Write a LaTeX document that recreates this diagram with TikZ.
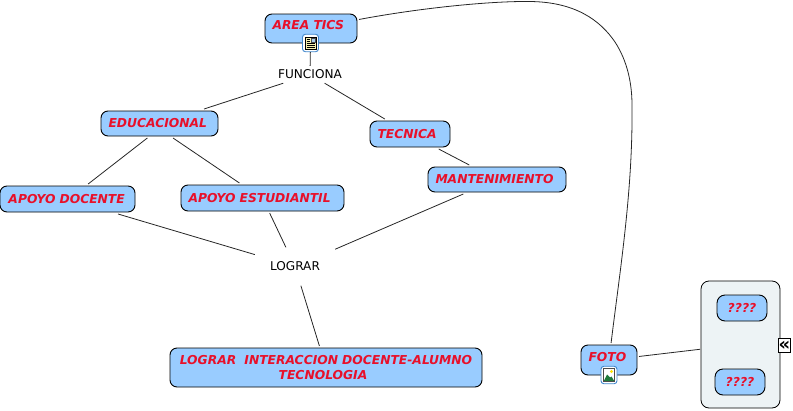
\documentclass[tikz,border=0pt]{standalone}
\usepackage{fontspec}
\setmainfont{DejaVu Sans}
\usepackage{tikz}

\definecolor{conceptblue}{HTML}{99CCFF}
\definecolor{conceptred}{HTML}{E8102A}
\definecolor{panelgray}{HTML}{EDF3F5}
\definecolor{iconblue}{HTML}{3F86CC}
\definecolor{pagecream}{HTML}{F7F2B0}
\definecolor{hillgreen}{HTML}{1F7A3C}
\definecolor{skyblue}{HTML}{A9CDEB}

\tikzset{
    concept/.style={draw=black, line width=0.9pt, fill=conceptblue, rounded corners=7pt, outer sep=2pt,
        text=conceptred, font=\bfseries\itshape\fontsize{12.3}{15}\selectfont, inner xsep=7.5pt,
        align=left, text width=#1},
    linkword/.style={font=\fontsize{12.1}{14}\selectfont, text=black},
    linkicon/.style={draw=iconblue, line width=0.9pt, fill=white, rounded corners=3pt, minimum width=16pt, minimum height=17.5pt, inner sep=0pt},
    connector/.style={line width=0.8pt, draw=black!85},
}

\begin{document}
\begin{tikzpicture}[x=1pt, y=-1pt]
    \useasboundingbox (0,0) rectangle (793,410);

    % Concepts
    \node[concept=77pt, minimum height=29pt, text depth=7pt] (areatics) at (311,28.5) {AREA TICS};
    \node[concept=102pt, minimum height=25pt] (educacional) at (159.5,123.5) {EDUCACIONAL};
    \node[concept=65pt, minimum height=26pt] (tecnica) at (410,134) {TECNICA};
    \node[concept=120pt, minimum height=26pt] (apoyodocente) at (67.5,199) {\hspace*{1pt}APOYO DOCENTE};
    \node[concept=148pt, minimum height=26pt] (apoyoestudiantil) at (262.5,198) {APOYO ESTUDIANTIL};
    \node[concept=123pt, minimum height=25pt] (mantenimiento) at (497,179.5) {MANTENIMIENTO};
    \node[concept=306pt, inner xsep=3pt, minimum height=39pt, align=center] (interaccion) at (326,367.5) {LOGRAR~ INTERACCION DOCENTE-ALUMNO\hspace*{10pt}\\TECNOLOGIA\hspace*{6pt}};
    \node[concept=41pt, minimum height=30pt, text depth=6pt] (foto) at (609,360) {FOTO};

    % Linking words
    \node[linkword, minimum width=66pt, minimum height=17pt, inner sep=0pt] (funciona) at (310,74.5) {FUNCIONA};
    \node[linkword, minimum width=80pt, minimum height=38pt, inner sep=0pt] (lograr) at (295,266.5) {LOGRAR};

    % Folder with its two concepts
    \node[draw=black, line width=0.8pt, fill=panelgray, rounded corners=8pt, minimum width=79pt, minimum height=127pt, outer sep=1pt] (panel) at (740.5,344.5) {};
    \node[concept=35pt, minimum height=26pt, rounded corners=8pt, align=center] (firstmark) at (742,308) {????};
    \node[concept=35pt, minimum height=26pt, rounded corners=8pt, align=center] (secondmark) at (740,382) {????};
    \node[draw=black, line width=0.8pt, fill=white, minimum width=12pt, minimum height=14pt, inner sep=0pt, font=\bfseries\fontsize{18}{18}\selectfont] (collapse) at (784.5,345.5) {«};

    % Document icon
    \node[linkicon] (docicon) at (310.5,43) {};
    \fill[pagecream, draw=black, line width=0.6pt] (305,37) rectangle (316,49);
    \fill[skyblue, draw=black!70, line width=0.3pt] (311,38.5) rectangle (315,42.5);
    \foreach \liney in {39.5,41.5} {\draw[black, line width=0.7pt] (306.5,\liney) -- (310,\liney);}
    \foreach \liney in {43.5,45.5,47.5} {\draw[black, line width=0.7pt] (306.5,\liney) -- (314.5,\liney);}

    % Picture icon
    \node[linkicon] (photoicon) at (609,375) {};
    \fill[white] (604,369) rectangle (614,381);
    \fill[yellow!85!orange] (611.5,371.5) circle (1.6pt);
    \fill[hillgreen] (603.5,381.5) -- (607,374.5) -- (610,377.5) -- (611.5,376.5) -- (614.5,381.5) -- cycle;
    \draw[black!70, line width=0.4pt] (603.5,368.5) rectangle (614.5,381.5);

    % Connectors
    \draw[connector] (docicon) -- (funciona);
    \draw[connector] (funciona) -- (educacional);
    \draw[connector] (funciona) -- (tecnica);
    \draw[connector] (educacional.-130) -- (apoyodocente.36);
    \draw[connector] (educacional.-47) -- (apoyoestudiantil.147);
    \draw[connector] (tecnica) -- (mantenimiento);
    \draw[connector] (apoyodocente) -- (lograr);
    \draw[connector] (apoyoestudiantil) -- (lograr);
    \draw[connector] (mantenimiento) -- (lograr);
    \draw[connector] (lograr) -- (interaccion);
    \draw[connector] (foto) -- (panel);
    \draw[connector] (areatics) .. controls (420,8) and (490,1) .. (530,1.5)
        .. controls (575,2) and (600,20) .. (615,42)
        .. controls (628,62) and (632,85) .. (632,105)
        .. controls (633,190) and (620,270) .. (foto);
\end{tikzpicture}
\end{document}
